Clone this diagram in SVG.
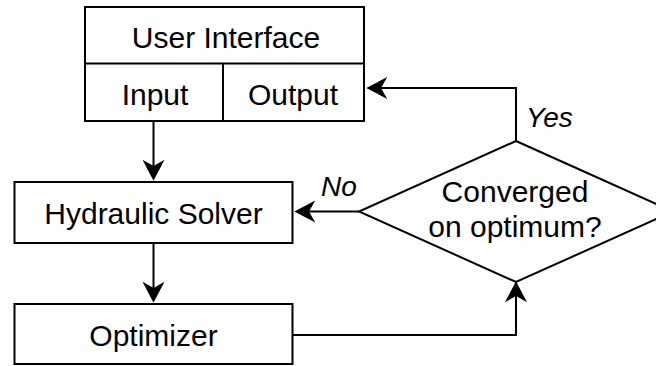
<svg xmlns="http://www.w3.org/2000/svg" width="656" height="366" viewBox="0 0 656 366">
<style>
.box{fill:#fff;stroke:#000;stroke-width:2}
.t{font-family:"Liberation Sans",Arial,sans-serif;font-size:30px;fill:#000;text-anchor:middle}
.lbl{font-family:"Liberation Sans",Arial,sans-serif;font-size:28px;font-style:italic;fill:#000}
.c{fill:none;stroke:#000;stroke-width:2;marker-end:url(#ah)}
</style>
<defs>
<marker id="ah" markerUnits="userSpaceOnUse" markerWidth="22" markerHeight="22" viewBox="0 0 20 21" refX="6" refY="10.5" orient="auto">
<path d="M20,10.5 L0,0 L6,10.5 L0,21 Z" fill="#000"/>
</marker>
</defs>
<rect width="656" height="366" fill="#fff"/>
<g id="connectors">
<path class="c" d="M153.5,121 V166"/>
<path class="c" d="M153.5,243 V288"/>
<path class="c" d="M293,335 H516 V296"/>
<path class="c" d="M516,141 V88 H381"/>
<path class="c" d="M359,211.5 H309"/>
</g>
<g id="user-interface">
<rect class="box" x="85" y="7" width="279" height="114"/>
<line x1="85" y1="63.5" x2="364" y2="63.5" stroke="#000" stroke-width="2"/>
<line x1="223" y1="63.5" x2="223" y2="121" stroke="#000" stroke-width="2"/>
<text class="t" x="226" y="48">User Interface</text>
</g>
<g id="input"><text class="t" x="155" y="105">Input</text></g>
<g id="output"><text class="t" x="293" y="105">Output</text></g>
<g id="hydraulic-solver">
<rect class="box" x="14.5" y="182" width="278" height="61"/>
<text class="t" x="153.5" y="224">Hydraulic Solver</text>
</g>
<g id="optimizer">
<rect class="box" x="14.5" y="304" width="278" height="60"/>
<text class="t" x="153.5" y="346">Optimizer</text>
</g>
<g id="decision">
<polygon class="box" points="516,141 673,211.5 516,282 359,211.5"/>
<text class="t" x="515" y="202">Converged</text>
<text class="t" x="515" y="237">on optimum?</text>
</g>
<text class="lbl" x="526" y="127">Yes</text>
<text class="lbl" x="321" y="196">No</text>
</svg>
